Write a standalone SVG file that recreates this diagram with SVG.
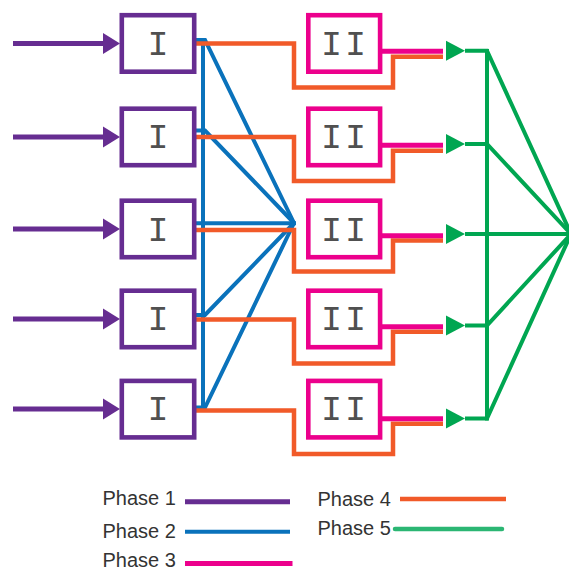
<svg xmlns="http://www.w3.org/2000/svg" xmlns:xlink="http://www.w3.org/1999/xlink" width="569" height="571" viewBox="0 0 569 571">
  <style>
    .p1 { stroke: #662d91; fill: none; stroke-width: 5; }
    .p2 { stroke: #0a72bb; fill: none; stroke-width: 4; }
    .p3 { stroke: #ec008c; fill: none; stroke-width: 5; }
    .p4 { stroke: #f15a29; fill: none; stroke-width: 4.5; stroke-linejoin: miter; }
    .p5 { stroke: #00a651; fill: none; stroke-width: 4; }
    .box1 { fill: #ffffff; stroke: #662d91; stroke-width: 4.6; }
    .box2 { fill: #ffffff; stroke: #ec008c; stroke-width: 4.6; }
    .roman { font-family: "Liberation Mono", "Courier New", monospace; font-size: 35px; fill: #505050; text-anchor: middle; }
    .legend { font-family: "Liberation Sans", Arial, sans-serif; font-size: 20px; fill: #333333; }
  </style>
  <defs>
    <polygon id="inArrow" points="0,-10.5 17,0 0,10.5" fill="#662d91"/>
    <polygon id="outArrow" points="0,-10 19,0 0,10" fill="#00a651"/>
  </defs>

  <!-- connectors -->
  <g id="connectors">
    <!-- phase 1: inputs -->
    <g id="phase1">
      <line class="p1" x1="13" y1="43.5" x2="105" y2="43.5"/><use xlink:href="#inArrow" x="103" y="43.5"/>
      <line class="p1" x1="13" y1="137" x2="105" y2="137"/><use xlink:href="#inArrow" x="103" y="137"/>
      <line class="p1" x1="13" y1="229" x2="105" y2="229"/><use xlink:href="#inArrow" x="103" y="229"/>
      <line class="p1" x1="13" y1="319" x2="105" y2="319"/><use xlink:href="#inArrow" x="103" y="319"/>
      <line class="p1" x1="13" y1="409" x2="105" y2="409"/><use xlink:href="#inArrow" x="103" y="409"/>
    </g>
    <!-- phase 2: bus and fan-in -->
    <g id="phase2">
      <line class="p2" x1="203" y1="38" x2="203" y2="409"/>
      <polyline class="p2" points="193,40 205,40 294,223"/>
      <polyline class="p2" points="193,130.5 205,130.5 294,223"/>
      <line class="p2" x1="192" y1="223.3" x2="296" y2="223.3"/>
      <polyline class="p2" points="193,315 205,315 294,223"/>
      <polyline class="p2" points="193,407.5 205,407.5 294,223"/>
    </g>
    <!-- phase 4: loops around stage II -->
    <g id="phase4">
      <polyline class="p4" points="196,43.5 294,43.5 294,87.5 393,87.5 393,56.7 443,56.7"/>
      <polyline class="p4" points="196,137 294,137 294,181 393,181 393,150.7 443,150.7"/>
      <polyline class="p4" points="196,230 294,230 294,271.5 393,271.5 393,240.5 443,240.5"/>
      <polyline class="p4" points="196,319.5 294,319.5 294,363.5 393,363.5 393,331.8 443,331.8"/>
      <polyline class="p4" points="196,410.5 294,410.5 294,454 393,454 393,423.7 443,423.7"/>
    </g>
    <!-- phase 3: stage II outputs -->
    <g id="phase3">
      <line class="p3" x1="382" y1="51.3" x2="443" y2="51.3"/>
      <line class="p3" x1="382" y1="145.3" x2="443" y2="145.3"/>
      <line class="p3" x1="382" y1="235.7" x2="443" y2="235.7"/>
      <line class="p3" x1="382" y1="326.7" x2="443" y2="326.7"/>
      <line class="p3" x1="382" y1="418.7" x2="443" y2="418.7"/>
    </g>
    <!-- phase 5: output fan-in -->
    <g id="phase5">
      <use xlink:href="#outArrow" x="446" y="50.7"/>
      <use xlink:href="#outArrow" x="446" y="144"/>
      <use xlink:href="#outArrow" x="446" y="234"/>
      <use xlink:href="#outArrow" x="446" y="325.5"/>
      <use xlink:href="#outArrow" x="446" y="418.5"/>
      <line class="p5" x1="487" y1="49" x2="487" y2="420.5"/>
      <polyline class="p5" points="465,50.7 487,50.7 571,234"/>
      <polyline class="p5" points="465,144 487,144 571,234"/>
      <line class="p5" x1="465" y1="234" x2="571" y2="234"/>
      <polyline class="p5" points="465,325.5 487,325.5 571,234"/>
      <polyline class="p5" points="465,418.5 487,418.5 571,234"/>
    </g>
  </g>

  <!-- stage I nodes -->
  <g id="stage1-row1"><rect class="box1" x="121.8" y="15.2" width="72.4" height="56.5"/><text class="roman" x="158" y="54.5">I</text></g>
  <g id="stage1-row2"><rect class="box1" x="121.8" y="108.7" width="72.4" height="56.5"/><text class="roman" x="158" y="148">I</text></g>
  <g id="stage1-row3"><rect class="box1" x="121.8" y="200.7" width="72.4" height="56.5"/><text class="roman" x="158" y="240.5">I</text></g>
  <g id="stage1-row4"><rect class="box1" x="121.8" y="290.7" width="72.4" height="56.5"/><text class="roman" x="158" y="330">I</text></g>
  <g id="stage1-row5"><rect class="box1" x="121.8" y="380.9" width="72.4" height="56.5"/><text class="roman" x="158" y="420">I</text></g>

  <!-- stage II nodes -->
  <g id="stage2-row1"><rect class="box2" x="308.3" y="15.2" width="71.8" height="56.5"/><text class="roman" x="345" y="54.5" letter-spacing="3">II</text></g>
  <g id="stage2-row2"><rect class="box2" x="308.3" y="108.7" width="71.8" height="56.5"/><text class="roman" x="345" y="148" letter-spacing="3">II</text></g>
  <g id="stage2-row3"><rect class="box2" x="308.3" y="200.7" width="71.8" height="56.5"/><text class="roman" x="345" y="240.5" letter-spacing="3">II</text></g>
  <g id="stage2-row4"><rect class="box2" x="308.3" y="290.7" width="71.8" height="56.5"/><text class="roman" x="345" y="330" letter-spacing="3">II</text></g>
  <g id="stage2-row5"><rect class="box2" x="308.3" y="380.9" width="71.8" height="56.5"/><text class="roman" x="345" y="420" letter-spacing="3">II</text></g>

  <!-- legend -->
  <g id="legend">
    <text class="legend" x="102.5" y="505">Phase 1</text>
    <line class="p1" x1="185" y1="501.7" x2="290" y2="501.7"/>
    <text class="legend" x="102.5" y="537.5">Phase 2</text>
    <line class="p2" x1="185" y1="531.7" x2="290" y2="531.7" stroke-width="4.5"/>
    <text class="legend" x="102.5" y="566.5">Phase 3</text>
    <line class="p3" x1="185" y1="563.5" x2="292.5" y2="563.5"/>
    <text class="legend" x="317.5" y="506">Phase 4</text>
    <line class="p4" x1="400" y1="499" x2="506" y2="499" stroke-width="5"/>
    <text class="legend" x="317.5" y="535">Phase 5</text>
    <line x1="395" y1="529" x2="502" y2="529" stroke="#2bb673" stroke-width="4.5" stroke-linecap="round"/>
  </g>
</svg>
